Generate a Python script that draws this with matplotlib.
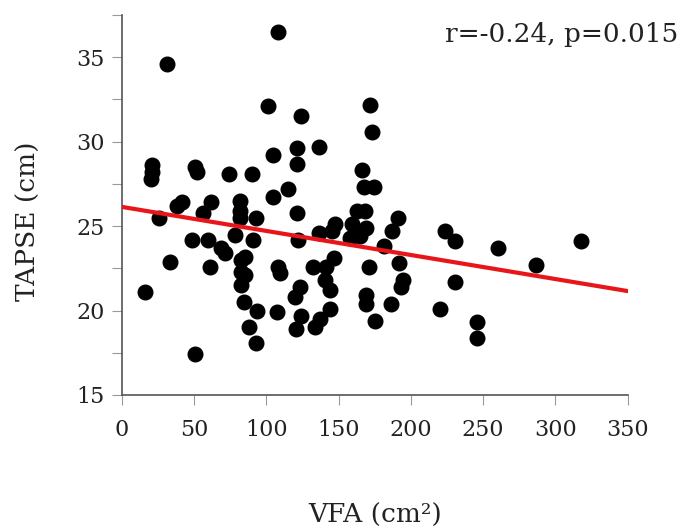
import matplotlib
matplotlib.use("Agg")
import matplotlib.pyplot as plt
import numpy as np
from matplotlib.ticker import MultipleLocator

# VFA (cm2) と TAPSE (cm) の読み取り値
vfa = [16, 20, 21, 21, 25.5, 31, 33.5, 38, 41.5, 48.5,
       50.8, 52, 50.8, 56, 59.5, 61.8, 61, 69, 71.3, 74,
       78.5, 82, 81.5, 81.5, 82.7, 85.5, 82.5, 85.5, 82.3, 84.3,
       90, 90.8, 92.8, 93.3, 88.3, 92.8, 101, 104.4, 104.4, 108.4,
       108, 109.5, 107.6, 115, 121, 121, 124, 121, 122, 123.3,
       120, 124, 120.8, 132, 136.3, 136.2, 141.3, 140.6, 143.8, 143.8,
       137, 133.8, 146.5, 147.8, 145.5, 159.3, 158.2, 165.1, 162.8, 168.6,
       166.5, 167.4, 174.4, 171.6, 173.2, 169.3, 170.9, 168.8, 169.3, 175.5,
       181.5, 187.1, 190.8, 191.5, 194.5, 193, 186.2, 220.1, 223.4, 230.4,
       230.5, 245.5, 245.5, 260.6, 286.4, 317.6]
tapse = [21.1, 27.8, 28.2, 28.6, 25.5, 34.6, 22.9, 26.2, 26.4, 24.2,
         28.5, 28.2, 17.4, 25.8, 24.2, 26.4, 22.6, 23.7, 23.4, 28.1,
         24.5, 26.5, 25.9, 25.5, 23.0, 23.2, 22.3, 22.1, 21.5, 20.5,
         28.1, 24.2, 25.5, 20.0, 19.0, 18.1, 32.1, 29.2, 26.7, 36.5,
         22.6, 22.2, 19.9, 27.2, 29.6, 28.7, 31.5, 25.75, 24.2, 21.4,
         20.8, 19.7, 18.9, 22.6, 29.7, 24.6, 22.6, 21.8, 21.2, 20.1,
         19.5, 19.0, 23.1, 25.1, 24.7, 25.1, 24.3, 24.4, 25.9, 25.9,
         28.3, 27.3, 27.3, 32.2, 30.6, 24.9, 22.6, 20.9, 20.4, 19.4,
         23.8, 24.7, 25.5, 22.8, 21.8, 21.4, 20.4, 20.1, 24.7, 24.1,
         21.7, 19.3, 18.4, 23.7, 22.7, 24.1]

# 回帰直線 (読み取り)
fit_intercept = 26.14
fit_slope = -0.01425
fit_x = [0, 350]

plt.rcParams['font.family'] = ['DejaVu Serif']

fig = plt.figure(figsize=(6.85, 5.28), dpi=100)
ax = fig.add_axes([0.1777, 0.2519, 0.7387, 0.7197])

ax.plot(vfa, tapse, 'o', color='black', markersize=10.5, zorder=2)
fx = np.array(fit_x)
ax.plot(fx, fit_intercept + fit_slope * fx, '-', color='#e8161b', linewidth=3, zorder=3)

ax.set_xlim(0, 350)
ax.set_ylim(15, 37.5)
ax.set_xticks(range(0, 351, 50))
ax.set_yticks([15, 20, 25, 30, 35])
ax.yaxis.set_minor_locator(MultipleLocator(2.5))

for s in ['top', 'right']:
    ax.spines[s].set_visible(False)
for s in ['left', 'bottom']:
    ax.spines[s].set_color('#555555')
    ax.spines[s].set_linewidth(1.2)

ax.tick_params(axis='both', which='both', direction='out', length=7,
               color='#999999', width=0.8, labelsize=16, labelcolor='#222222')
ax.tick_params(axis='x', pad=10)
ax.tick_params(axis='y', pad=5)

ax.set_xlabel('VFA (cm²)', fontsize=19, color='#222222', labelpad=45)
# 縦軸ラベルは少し下寄り
fig.text(28 / 685, 1 - 221 / 528, 'TAPSE (cm)', fontsize=19, color='#222222',
         rotation=90, ha='center', va='center')

fig.text(0.99, 0.935, 'r=-0.24, p=0.015', fontsize=19, color='#222222',
         ha='right', va='center')

plt.savefig('out.png', dpi=100)
